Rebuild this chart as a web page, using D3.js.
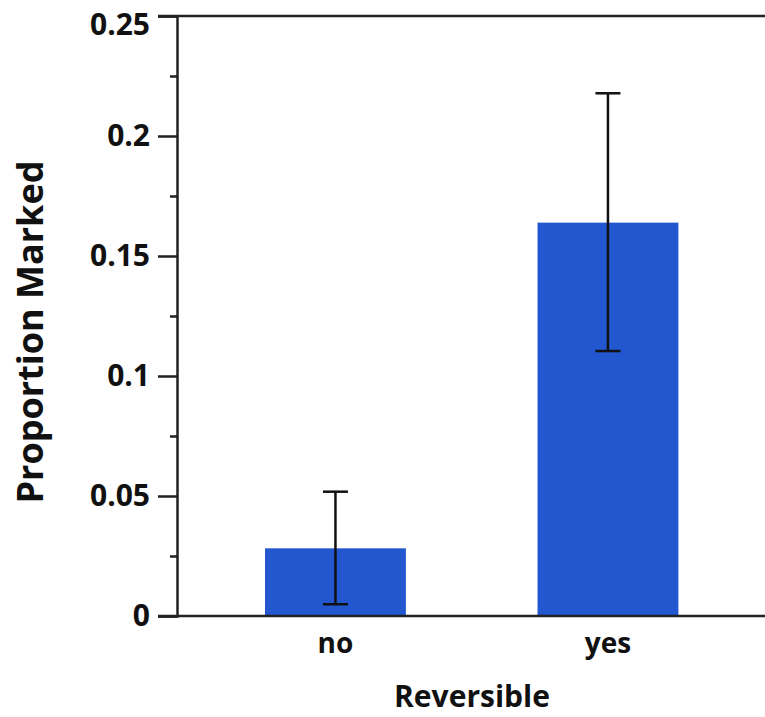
<!DOCTYPE html>
<html><head><meta charset="utf-8">
<script src="https://cdn.jsdelivr.net/npm/d3@7"></script>
<style>
body{margin:0;background:#fff;}
svg{display:block;}
text{font-family:"Open Sans",sans-serif;font-weight:700;fill:#111;}
</style></head>
<body>
<svg id="chart" width="765" height="717"></svg>
<script>
const categories = ["no", "yes"];
const values = [0.0282, 0.1639];
const errLow = [0.0049, 0.1104];
const errHigh = [0.0518, 0.2178];
const yTicks = [0, 0.05, 0.1, 0.15, 0.2, 0.25];
const yTickLabels = ["0", "0.05", "0.1", "0.15", "0.2", "0.25"];
const yMinorTicks = [0.025, 0.075, 0.125, 0.175, 0.225];
const xTitle = "Reversible";
const yTitle = "Proportion Marked";

(function () {
const svg = d3.select("#chart");
const mLeft = 177, mTop = 16, mBottom = 616, mRight = 766.4;

const y = d3.scaleLinear().domain([0, 0.25]).range([mBottom, mTop]);
const x = d3.scaleBand().domain(categories).range([mLeft, mRight])
  .paddingInner(0.483).paddingOuter(0.323);

// bars
svg.append("g").selectAll("rect").data(categories).join("rect")
  .attr("x", d => x(d))
  .attr("width", x.bandwidth())
  .attr("y", (d, i) => y(values[i]))
  .attr("height", (d, i) => y(0) - y(values[i]))
  .attr("fill", "#2257d0");

// error bars
const eg = svg.append("g").attr("stroke", "#111").attr("stroke-width", 2.5);
categories.forEach((c, i) => {
  const cx = x(c) + x.bandwidth() / 2;
  eg.append("line").attr("x1", cx).attr("x2", cx).attr("y1", y(errLow[i])).attr("y2", y(errHigh[i]));
  eg.append("line").attr("x1", cx - 12.5).attr("x2", cx + 12.5).attr("y1", y(errLow[i])).attr("y2", y(errLow[i]));
  eg.append("line").attr("x1", cx - 12.5).attr("x2", cx + 12.5).attr("y1", y(errHigh[i])).attr("y2", y(errHigh[i]));
});

// y axis major
const yAxis = d3.axisLeft(y).tickValues(yTicks)
  .tickFormat((d, i) => yTickLabels[i]).tickSize(19).tickPadding(8);
const ya = svg.append("g").attr("transform", `translate(${mLeft},0)`).call(yAxis);
ya.select(".domain").attr("stroke", "#222").attr("stroke-width", 2.5);
ya.selectAll(".tick line").attr("stroke", "#222").attr("stroke-width", 2.5);
ya.selectAll(".tick text").attr("font-size", 30).attr("font-family", "Open Sans").attr("font-weight", 700).attr("fill", "#111")
  .attr("y", d => d === 0.25 ? 9 : 0);

// y axis minor
const yMinor = d3.axisLeft(y).tickValues(yMinorTicks).tickFormat("").tickSize(7);
const ym = svg.append("g").attr("transform", `translate(${mLeft},0)`).call(yMinor);
ym.select(".domain").remove();
ym.selectAll(".tick line").attr("stroke", "#222").attr("stroke-width", 2.5);

// top & bottom frame lines
svg.append("line").attr("x1", 158).attr("x2", 765).attr("y1", y(0.25)).attr("y2", y(0.25))
  .attr("stroke", "#222").attr("stroke-width", 2.5);
svg.append("line").attr("x1", 158).attr("x2", 765).attr("y1", y(0)).attr("y2", y(0))
  .attr("stroke", "#222").attr("stroke-width", 2.5);

// x category labels
svg.append("g").selectAll("text").data(categories).join("text")
  .attr("x", d => x(d) + x.bandwidth() / 2)
  .attr("y", 653)
  .attr("text-anchor", "middle")
  .attr("font-size", 28)
  .text(d => d);

// axis titles
svg.append("text").attr("x", 472).attr("y", 707).attr("text-anchor", "middle")
  .attr("font-size", 30).text(xTitle);
svg.append("text").attr("transform", "translate(43,332) rotate(-90)")
  .attr("text-anchor", "middle").attr("font-size", 36).text(yTitle);
})();
</script>
</body></html>
